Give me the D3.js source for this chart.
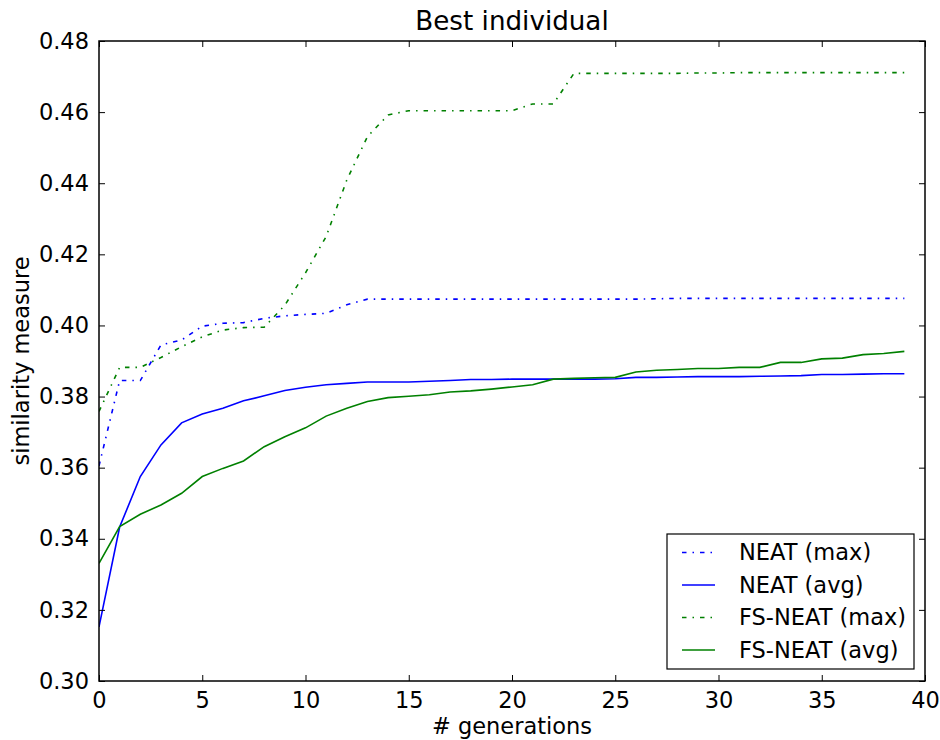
<!DOCTYPE html>
<html>
<head>
<meta charset="utf-8">
<script src="https://cdn.jsdelivr.net/npm/d3@7"></script>
<style>
  html, body { margin: 0; padding: 0; background: #fff; }
  svg { display: block; font-family: "DejaVu Sans", sans-serif; }
</style>
</head>
<body>
<svg id="chart" width="940" height="740"></svg>
<script>
const generations = d3.range(0, 40);
const neatMax = [0.3605, 0.3845, 0.3845, 0.3945, 0.3959, 0.3998, 0.4006, 0.4008, 0.4020, 0.4027,
  0.4031, 0.4034, 0.4058, 0.4074, 0.4074, 0.4074, 0.4074, 0.4074, 0.4074, 0.4074,
  0.4074, 0.4074, 0.4074, 0.4074, 0.4074, 0.4074, 0.4074, 0.4075, 0.4076, 0.4076,
  0.4076, 0.4076, 0.4076, 0.4076, 0.4076, 0.4076, 0.4076, 0.4076, 0.4076, 0.4076];
const neatAvg = [0.3152, 0.3433, 0.3575, 0.3664, 0.3726, 0.3751, 0.3767, 0.3788, 0.3802, 0.3817,
  0.3826, 0.3833, 0.3837, 0.3841, 0.3841, 0.3841, 0.3843, 0.3845, 0.3848, 0.3848,
  0.3849, 0.3849, 0.3849, 0.3849, 0.3849, 0.3850, 0.3854, 0.3854, 0.3855, 0.3856,
  0.3856, 0.3856, 0.3857, 0.3858, 0.3859, 0.3862, 0.3862, 0.3863, 0.3864, 0.3864];
const fsMax = [0.3758, 0.3882, 0.3882, 0.3910, 0.3940, 0.3968, 0.3987, 0.3994, 0.3995, 0.4057,
  0.4148, 0.4250, 0.4409, 0.4531, 0.4592, 0.4604, 0.4604, 0.4604, 0.4604, 0.4604,
  0.4604, 0.4623, 0.4623, 0.4709, 0.4709, 0.4709, 0.4709, 0.4709, 0.4709, 0.4710,
  0.4710, 0.4711, 0.4711, 0.4711, 0.4711, 0.4711, 0.4711, 0.4711, 0.4711, 0.4711];
const fsAvg = [0.3331, 0.3434, 0.3469, 0.3495, 0.3528, 0.3575, 0.3598, 0.3619, 0.3659, 0.3687,
  0.3712, 0.3745, 0.3767, 0.3786, 0.3797, 0.3801, 0.3805, 0.3813, 0.3816, 0.3821,
  0.3827, 0.3833, 0.3849, 0.3851, 0.3853, 0.3854, 0.3869, 0.3874, 0.3876, 0.3879,
  0.3879, 0.3882, 0.3882, 0.3896, 0.3896, 0.3906, 0.3908, 0.3918, 0.3921, 0.3927];
const xTicks = [0, 5, 10, 15, 20, 25, 30, 35, 40];
const yTicks = [0.30, 0.32, 0.34, 0.36, 0.38, 0.40, 0.42, 0.44, 0.46, 0.48];
const seriesNames = ["NEAT (max)", "NEAT (avg)", "FS-NEAT (max)", "FS-NEAT (avg)"];
const seriesColors = ["#0000ff", "#0000ff", "#008000", "#008000"];
const seriesDashed = [true, false, true, false];
const seriesValues = [neatMax, neatAvg, fsMax, fsAvg];

const svg = d3.select("#chart");
const L = 99, R = 925, T = 41, B = 681;
const x = d3.scaleLinear().domain([0, 40]).range([L, R]);
const y = d3.scaleLinear().domain([0.30, 0.48]).range([B, T]);
const dash = "4.5,6,1.5,6";

// lines
svg.append("clipPath").attr("id", "clip").append("rect")
  .attr("x", L).attr("y", T).attr("width", R - L).attr("height", B - T);
const line = d3.line().x((d, i) => x(generations[i])).y(d => y(d));
const g = svg.append("g").attr("clip-path", "url(#clip)");
seriesValues.forEach((vals, k) => {
  g.append("path").datum(vals)
    .attr("d", line)
    .attr("fill", "none")
    .attr("stroke", seriesColors[k])
    .attr("stroke-width", 1.6)
    .attr("stroke-dasharray", seriesDashed[k] ? dash : null);
});

// axes (ticks inward on all sides)
const tickLen = 6;
const axB = svg.append("g").attr("transform", `translate(0,${B})`)
  .call(d3.axisBottom(x).tickValues(xTicks).tickSizeInner(-tickLen).tickSizeOuter(0).tickPadding(11).tickFormat(d3.format("d")));
const axT = svg.append("g").attr("transform", `translate(0,${T})`)
  .call(d3.axisTop(x).tickValues(xTicks).tickSizeInner(-tickLen).tickSizeOuter(0).tickFormat(""));
const axL = svg.append("g").attr("transform", `translate(${L},0)`)
  .call(d3.axisLeft(y).tickValues(yTicks).tickSizeInner(-tickLen).tickSizeOuter(0).tickPadding(10).tickFormat(d3.format(".2f")));
const axR = svg.append("g").attr("transform", `translate(${R},0)`)
  .call(d3.axisRight(y).tickValues(yTicks).tickSizeInner(-tickLen).tickSizeOuter(0).tickFormat(""));
[axB, axT, axL, axR].forEach(a => {
  a.select(".domain").remove();
  a.selectAll(".tick line").attr("stroke", "#000").attr("stroke-width", 1);
  a.selectAll(".tick text").attr("font-size", 22.5).attr("fill", "#000")
    .attr("font-family", "DejaVu Sans, sans-serif");
});
axB.selectAll(".tick text").attr("dy", "0.71em");
// frame
svg.append("rect").attr("x", L).attr("y", T).attr("width", R - L).attr("height", B - T)
  .attr("fill", "none").attr("stroke", "#000").attr("stroke-width", 1.5);

// title and labels
svg.append("text").attr("x", (L + R) / 2).attr("y", 30).attr("text-anchor", "middle")
  .attr("font-size", 26.2).text("Best individual");
svg.append("text").attr("x", (L + R) / 2).attr("y", 734).attr("text-anchor", "middle")
  .attr("font-size", 22.5).text("# generations");
svg.append("text").attr("transform", `translate(29,${(T + B) / 2}) rotate(-90)`)
  .attr("text-anchor", "middle").attr("font-size", 22.5).text("similarity measure");

// legend
const lg = svg.append("g");
lg.append("rect").attr("x", 667).attr("y", 534).attr("width", 247).attr("height", 135)
  .attr("fill", "#fff").attr("stroke", "#000").attr("stroke-width", 1.2);
seriesNames.forEach((name, k) => {
  const yy = 552.5 + k * 32.5;
  lg.append("line").attr("x1", 682).attr("x2", 715).attr("y1", yy).attr("y2", yy)
    .attr("stroke", seriesColors[k]).attr("stroke-width", 1.6)
    .attr("stroke-dasharray", seriesDashed[k] ? dash : null);
  lg.append("text").attr("x", 739).attr("y", yy).attr("dy", "0.35em")
    .attr("font-size", 22.5).text(name);
});
</script>
</body>
</html>
